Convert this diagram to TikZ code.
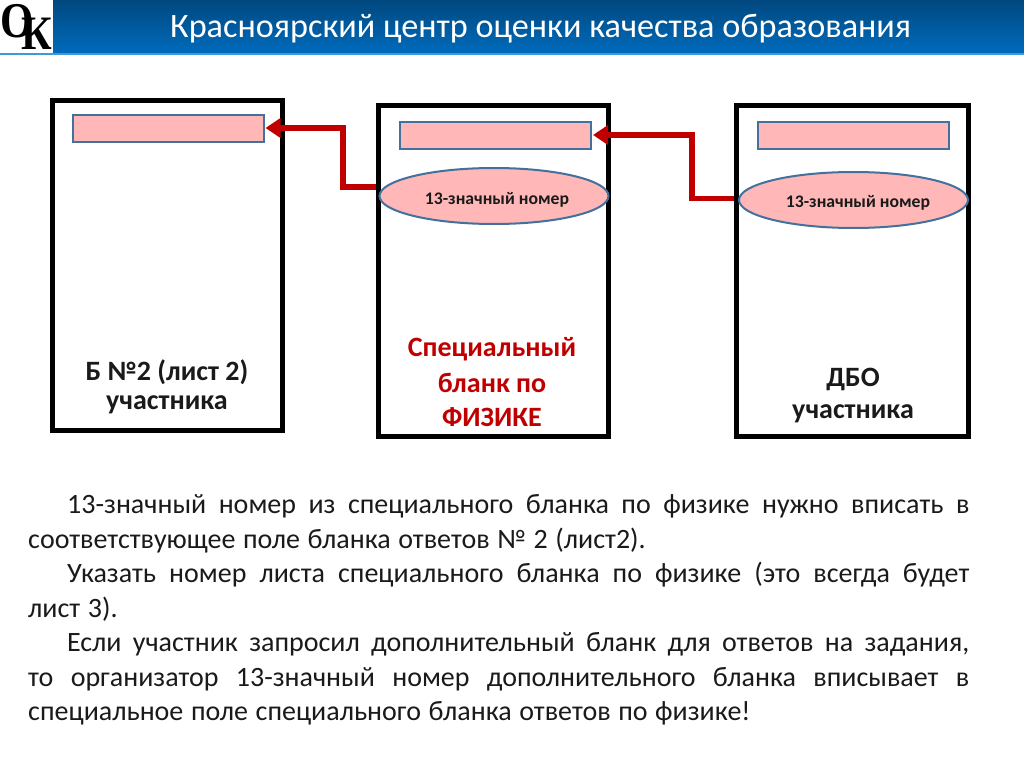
\documentclass[tikz,border=0pt]{standalone}
\usepackage{fontspec}
\setmainfont{Carlito}
\newfontfamily\logofont{Liberation Serif}
\usetikzlibrary{shapes.geometric,arrows.meta}
\definecolor{hdtop}{HTML}{00487F}
\definecolor{hdbot}{HTML}{006BBC}
\definecolor{hdline}{HTML}{3C9AD8}
\definecolor{pinkf}{HTML}{FFB7B7}
\definecolor{pinkd}{HTML}{41719C}
\definecolor{darkred}{HTML}{C00000}
\definecolor{txt}{HTML}{1A1A1A}
\newcommand{\fs}[1]{\fontsize{#1pt}{#1pt}\selectfont}
\tikzset{
  sheet/.style={draw=black,line width=5pt,fill=white,minimum width=#1,inner sep=0pt,outer sep=0pt},
  sheet/.default=230pt,
  field/.style={draw=pinkd,line width=2pt,fill=pinkf,minimum width=191pt,minimum height=27pt,inner sep=0pt,outer sep=0pt},
  numoval/.style={ellipse,draw=pinkd,line width=2pt,fill=pinkf,minimum width=229pt,minimum height=56pt,inner sep=0pt,outer sep=0pt},
  conn/.style={draw=darkred,line width=5.5pt,-{Triangle[length=15pt,width=19pt]},line join=miter},
  caption/.style={align=center,font=\fs{28}\bfseries,text=txt,inner sep=0pt},
  numlabel/.style={font=\fs{17.7}\bfseries,text=txt,inner sep=0pt}
}
\begin{document}
\begin{tikzpicture}[x=1pt,y=-1pt]
\useasboundingbox (0,0) rectangle (1024,767);
\fill[white] (0,0) rectangle (1024,767);
% header
\node[rectangle,top color=hdtop,bottom color=hdbot,minimum width=1024pt,minimum height=53pt,inner sep=0pt,outer sep=0pt,anchor=north west] (hdr) at (0,0) {};
\fill[hdline] (0,53) rectangle (1024,55);
\node[anchor=west,text=white,font=\fs{34.2},inner sep=0pt] (ttl) at (170,29) {Красноярский центр оценки качества образования};
% logo
\node[rectangle,fill=white,minimum width=53pt,minimum height=53pt,inner sep=0pt,outer sep=0pt,anchor=north west] (logo) at (0,0) {};
\node[inner sep=0pt,font=\logofont\bfseries\fs{50},xscale=0.86] (lo) at (17.5,21.5) {О};
\node[inner sep=0pt,font=\logofont\bfseries\fs{48},xscale=0.88] (lk) at (37,33.5) {К};
% sheets
\node[sheet,minimum height=330pt,anchor=north west] (b1) at (52.5,100.5) {};
\node[sheet,minimum height=331pt,anchor=north west] (b2) at (378.5,105.5) {};
\node[sheet,minimum width=232pt,minimum height=331pt,anchor=north west] (b3) at (736.5,105.5) {};
\node[field,anchor=north west] (r1) at (72.5,115.5) {};
\node[field,anchor=north west] (r2) at (400,122.5) {};
\node[field,anchor=north west] (r3) at (757.5,122.5) {};
\coordinate (j1a) at (343,187);
\coordinate (j1b) at (343,128);
\coordinate (j2a) at (692,198.5);
\coordinate (j2b) at (692,135);
\draw[conn] ([xshift=-2.5pt]b2.west |- j1a) -- (j1a) -- (j1b) -- ([xshift=2pt]r1.east |- j1b);
\draw[conn] ([xshift=-2.5pt]b3.west |- j2a) -- (j2a) -- (j2b) -- ([xshift=2pt]r2.east |- j2b);
\node[numoval] (e2) at (494,196) {};
\node[numoval] (e3) at (853.5,200) {};
\node[numlabel] (t2) at (497,200) {13-значный номер};
\node[numlabel] (t3) at (858,203) {13-значный номер};
\node[caption] (c1a) at (167,372) {Б №2 (лист 2)};
\node[caption] (c1b) at (167,405) {участника};
\node[caption,text=darkred] (c2a) at (492,349) {Специальный};
\node[caption,text=darkred] (c2b) at (492,383) {бланк по};
\node[caption,text=darkred] (c2c) at (492,417) {ФИЗИКЕ};
\node[caption] (c3a) at (853,379) {ДБО};
\node[caption] (c3b) at (853,414) {участника};
% body
\node[anchor=north west,inner sep=0pt,text width=941pt,align=justify,text=txt,font=\fs{28}] (body) at (28,479) {%
\parindent=39pt\baselineskip=34.5pt\tolerance=9999\hbadness=10000\spaceskip=7.6pt plus 6pt minus 1pt\par
13-значный номер из специального бланка по физике нужно вписать в\linebreak соответствующее поле бланка ответов № 2 (лист2).\par
Указать номер листа специального бланка по физике (это всегда будет\linebreak лист 3).\par
Если участник запросил дополнительный бланк для ответов на задания,\linebreak то организатор 13-значный номер дополнительного бланка вписывает в\linebreak специальное поле специального бланка ответов по физике!\par};
\end{tikzpicture}
\end{document}
